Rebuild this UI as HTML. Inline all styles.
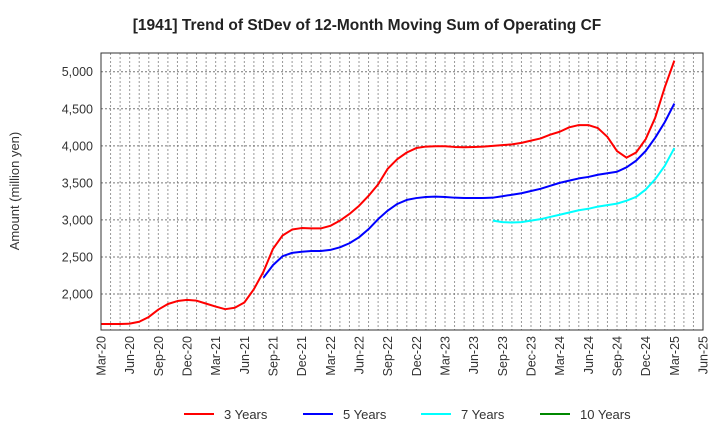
<!DOCTYPE html>
<html><head><meta charset="utf-8"><style>
body{margin:0;background:#fff;font-family:"Liberation Sans",sans-serif}
svg text{font-family:"Liberation Sans",sans-serif}
</style></head><body>
<svg id="c" width="720" height="440" xmlns="http://www.w3.org/2000/svg">
<text x="367" y="30" text-anchor="middle" font-size="15.5" font-weight="bold" fill="#222">[1941]  Trend of StDev of 12-Month Moving Sum of Operating CF</text>
<text transform="translate(19,191) rotate(-90)" text-anchor="middle" font-size="13" fill="#333">Amount (million yen)</text>
<g id="grid"></g><g id="series"></g><g id="axes"></g>
<g id="legend"></g>
</svg>
<script>
const xLabels=["Mar-20","Jun-20","Sep-20","Dec-20","Mar-21","Jun-21","Sep-21","Dec-21","Mar-22","Jun-22","Sep-22","Dec-22","Mar-23","Jun-23","Sep-23","Dec-23","Mar-24","Jun-24","Sep-24","Dec-24","Mar-25","Jun-25"];
const yTicks=[2000,2500,3000,3500,4000,4500,5000];
const red3=[1595,1595,1595,1600,1625,1690,1790,1865,1905,1920,1910,1870,1830,1795,1815,1885,2065,2300,2610,2790,2870,2890,2885,2885,2920,2990,3080,3190,3325,3480,3690,3820,3910,3970,3990,3995,3995,3985,3980,3985,3990,4000,4010,4020,4040,4070,4100,4150,4190,4250,4280,4280,4240,4120,3930,3840,3910,4090,4380,4790,5150];
const blue5Start=17;
const blue5=[2220,2390,2510,2555,2570,2580,2580,2595,2630,2685,2765,2875,3010,3125,3215,3270,3295,3310,3315,3310,3300,3295,3295,3295,3300,3320,3340,3360,3390,3420,3460,3500,3530,3560,3580,3610,3630,3650,3710,3800,3930,4110,4320,4570];
const cyan7Start=41;
const cyan7=[2990,2970,2965,2970,2990,3010,3040,3070,3100,3130,3150,3180,3200,3220,3260,3310,3410,3550,3730,3970];
const green10=[];
const L=101,R=703,T=53,B=330,YMIN=1514,YMAX=5253;
const x=m=>L+m*((R-L)/63);
const y=v=>B-(v-YMIN)/(YMAX-YMIN)*(B-T);
const NS="http://www.w3.org/2000/svg";
function mk(t,a,p){const e=document.createElementNS(NS,t);for(const k in a)e.setAttribute(k,a[k]);p.appendChild(e);return e;}
const grid=document.getElementById('grid'),axes=document.getElementById('axes'),ser=document.getElementById('series'),leg=document.getElementById('legend');
for(let m=1;m<63;m++){const l=mk('line',{x1:x(m),x2:x(m),y1:T,y2:B,stroke:'#999','stroke-width':1,'stroke-dasharray':'2,2'},grid);

}
yTicks.forEach(v=>{const l=mk('line',{x1:L,x2:R,y1:y(v),y2:y(v),stroke:'#777','stroke-width':1,'stroke-dasharray':'2,2'},grid);


const t=mk('text',{x:93,y:y(v)+4.5,'text-anchor':'end','font-size':12.5,fill:'#333'},axes);t.textContent=v.toLocaleString('en-US');

});
const fr=mk('rect',{x:L,y:T,width:R-L,height:B-T,fill:'none',stroke:'#333','stroke-width':1},axes);


xLabels.forEach((s,i)=>{const px=x(i*3);const t=mk('text',{transform:`translate(${px+4.5},336) rotate(-90)`,'text-anchor':'end','font-size':12.5,fill:'#333'},axes);t.textContent=s;

});
function line(arr,start,color,name){if(!arr.length)return;const p=mk('polyline',{points:arr.map((v,i)=>x(start+i)+','+y(v)).join(' '),fill:'none',stroke:color,'stroke-width':2,'stroke-linejoin':'round'},ser);

}
line(red3,0,'#f00','series-3-years');
line(blue5,blue5Start,'#00f','series-5-years');
line(cyan7,cyan7Start,'#0ff','series-7-years');
line(green10,0,'#080','series-10-years');
[["3 Years","#f00",184],["5 Years","#00f",303],["7 Years","#0ff",421],["10 Years","#080",540]].forEach(([n,c,lx])=>{
const g=mk('g',{},leg);


mk('line',{x1:lx,x2:lx+30,y1:414,y2:414,stroke:c,'stroke-width':2},g);
const t=mk('text',{x:lx+40,y:419,'font-size':13,fill:'#333'},g);t.textContent=n;});
</script>
</body></html>
